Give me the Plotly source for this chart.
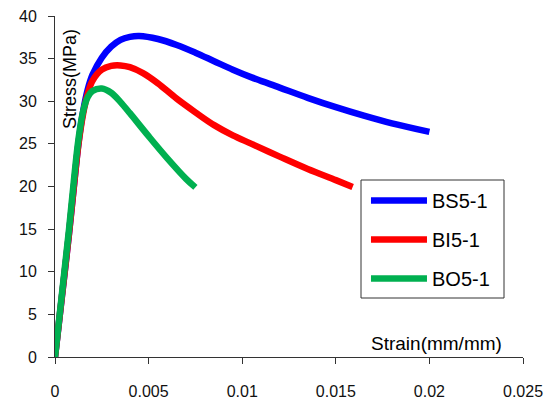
import plotly.graph_objects as go

# ---- data ----
bs_strain = [0, 0.00025, 0.0005, 0.00075, 0.001, 0.00125, 0.0015, 0.00175, 0.002, 0.0025,
             0.003, 0.0035, 0.004, 0.0045, 0.0055, 0.0065, 0.0075, 0.0085, 0.0095, 0.0105,
             0.012, 0.0135, 0.015, 0.0165, 0.018, 0.020]
bs_stress = [0, 4.8, 9.6, 14.5, 19.8, 25.0, 28.8, 31.4, 33.1, 35.1,
             36.4, 37.2, 37.55, 37.65, 37.3, 36.6, 35.7, 34.7, 33.7, 32.8,
             31.6, 30.4, 29.3, 28.3, 27.4, 26.4]

bi_strain = [0, 0.00025, 0.0005, 0.00075, 0.001, 0.00125, 0.0015, 0.00175, 0.002, 0.0025,
             0.003, 0.0035, 0.004, 0.0047, 0.0055, 0.0065, 0.0075, 0.0085, 0.0095, 0.0105,
             0.012, 0.0135, 0.015, 0.0159]
bi_stress = [0, 4.8, 9.6, 14.5, 19.8, 24.9, 28.5, 30.9, 32.4, 33.7,
             34.15, 34.2, 34.0, 33.3, 32.1, 30.3, 28.7, 27.2, 26.0, 25.0,
             23.5, 22.05, 20.75, 19.95]

bo_strain = [0, 0.00025, 0.0005, 0.00075, 0.001, 0.00125, 0.0015, 0.00175, 0.002, 0.0025,
             0.003, 0.0035, 0.004, 0.005, 0.006, 0.007, 0.0075]
bo_stress = [0, 5.0, 10.0, 15.0, 20.5, 25.5, 28.8, 30.5, 31.2, 31.5,
             31.0, 29.9, 28.6, 25.9, 23.3, 20.9, 19.9]

series_names = ["BS5-1", "BI5-1", "BO5-1"]
series_colors = ["#0000FF", "#FF0000", "#00B050"]

x_tickvals = [0, 0.005, 0.01, 0.015, 0.02, 0.025]
x_ticktext = ["0", "0.005", "0.01", "0.015", "0.02", "0.025"]
y_tickvals = [0, 5, 10, 15, 20, 25, 30, 35, 40]

FONT = "Liberation Sans, Arial, sans-serif"

fig = go.Figure()
for name, color, xs, ys in zip(series_names, series_colors,
                               [bs_strain, bi_strain, bo_strain],
                               [bs_stress, bi_stress, bo_stress]):
    fig.add_trace(go.Scatter(
        x=xs, y=ys, mode="lines", name=name, legendgroup=name,
        line=dict(color=color, width=6.5, shape="spline", smoothing=1.0),
    ))

axis_common = dict(
    showgrid=False, zeroline=False, showline=True, linecolor="#333333", linewidth=1,
    ticks="outside", ticklen=6, tickcolor="#333333", automargin=False,
    tickfont=dict(family=FONT, size=16, color="#111111"),
)

fig.update_layout(
    width=548, height=402,
    margin=dict(l=55, r=25, t=16, b=45),
    paper_bgcolor="white", plot_bgcolor="white",
    xaxis=dict(range=[0, 0.025], tickvals=x_tickvals, ticktext=x_ticktext,
               ticklabelstandoff=14, **axis_common),
    yaxis=dict(range=[0, 40], tickvals=y_tickvals, ticklabelstandoff=8, **axis_common),
    showlegend=True,
    legend=dict(
        x=0.6645, y=0.516, xanchor="left", yanchor="top",
        borderwidth=0, bgcolor="rgba(0,0,0,0)",
        font=dict(family=FONT, size=20, color="#000000"),
        tracegroupgap=10, itemwidth=56,
    ),
    shapes=[
        dict(type="rect", xref="paper", yref="paper",
             x0=(361 - 55) / 468, x1=(504 - 55) / 468,
             y0=(357 - 298) / 341, y1=(357 - 180) / 341,
             line=dict(color="#333333", width=1), fillcolor="white", layer="below"),
    ],
    annotations=[
        dict(text="Stress(MPa)", xref="paper", yref="paper", x=0.032, y=0.815,
             xanchor="center", yanchor="middle",
             showarrow=False, textangle=-90, font=dict(family=FONT, size=18, color="#000000")),
        dict(text="Strain(mm/mm)", xref="paper", yref="paper", x=0.816, y=0.041,
             xanchor="center", yanchor="middle",
             showarrow=False, font=dict(family=FONT, size=19, color="#000000")),
    ],
)

fig.write_html("out.html")
